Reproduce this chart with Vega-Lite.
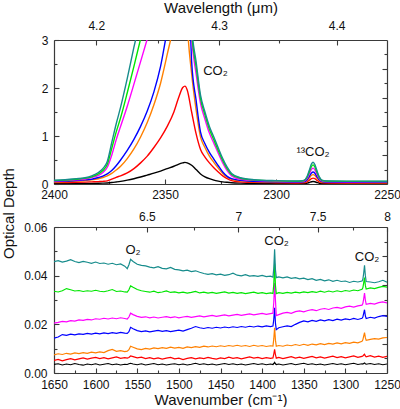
{
  "$schema": "https://vega.github.io/schema/vega-lite/v6.json",
  "background": "white",
  "padding": {"left": 1, "top": 0, "right": 0, "bottom": 0},
  "config": {
    "font": "Liberation Sans",
    "view": {"stroke": null},
    "axis": {
      "grid": false,
      "domainColor": "#3a3a3a",
      "domainWidth": 1.2,
      "tickColor": "#3a3a3a",
      "tickWidth": 1.1,
      "labelColor": "#111111",
      "titleColor": "#111111",
      "labelFont": "Liberation Sans",
      "titleFont": "Liberation Sans",
      "labelFontSize": 12,
      "titleFontSize": 15,
      "titleFontWeight": "normal",
      "labelFlush": false,
      "labelOverlap": false
    }
  },
  "datasets": {
    "top": [
      {"w":2400,"s":"s1","d":0.005},{"w":2395,"s":"s1","d":0.006},{"w":2390,"s":"s1","d":0.008},{"w":2386,"s":"s1","d":0.01},{"w":2383,"s":"s1","d":0.012},{"w":2380,"s":"s1","d":0.015},{"w":2378,"s":"s1","d":0.018},{"w":2376,"s":"s1","d":0.022},{"w":2374,"s":"s1","d":0.03},{"w":2372,"s":"s1","d":0.042},{"w":2370,"s":"s1","d":0.055},{"w":2367,"s":"s1","d":0.08},{"w":2364,"s":"s1","d":0.11},{"w":2361,"s":"s1","d":0.145},{"w":2358,"s":"s1","d":0.185},{"w":2355,"s":"s1","d":0.225},{"w":2352,"s":"s1","d":0.27},{"w":2349,"s":"s1","d":0.32},{"w":2346,"s":"s1","d":0.37},{"w":2344,"s":"s1","d":0.41},{"w":2342,"s":"s1","d":0.44},{"w":2341,"s":"s1","d":0.45},{"w":2340,"s":"s1","d":0.44},{"w":2338,"s":"s1","d":0.39},{"w":2336,"s":"s1","d":0.3},{"w":2334,"s":"s1","d":0.21},{"w":2332,"s":"s1","d":0.15},{"w":2330,"s":"s1","d":0.11},{"w":2328,"s":"s1","d":0.08},{"w":2326,"s":"s1","d":0.06},{"w":2324,"s":"s1","d":0.045},{"w":2322,"s":"s1","d":0.035},{"w":2320,"s":"s1","d":0.027},{"w":2316,"s":"s1","d":0.018},{"w":2310,"s":"s1","d":0.012},{"w":2300,"s":"s1","d":0.008},{"w":2290,"s":"s1","d":0.006},{"w":2287.5,"s":"s1","d":0.007},{"w":2286,"s":"s1","d":0.017},{"w":2285,"s":"s1","d":0.032},{"w":2284,"s":"s1","d":0.047},{"w":2283.3,"s":"s1","d":0.051},{"w":2282.5,"s":"s1","d":0.046},{"w":2281.5,"s":"s1","d":0.03},{"w":2280.5,"s":"s1","d":0.016},{"w":2279,"s":"s1","d":0.007},{"w":2276,"s":"s1","d":0.006},{"w":2265,"s":"s1","d":0.005},{"w":2250,"s":"s1","d":0.004},

      {"w":2400,"s":"s2","d":0.03},{"w":2395,"s":"s2","d":0.032},{"w":2390,"s":"s2","d":0.035},{"w":2386,"s":"s2","d":0.04},{"w":2383,"s":"s2","d":0.045},{"w":2380,"s":"s2","d":0.05},{"w":2378,"s":"s2","d":0.055},{"w":2376,"s":"s2","d":0.065},{"w":2374,"s":"s2","d":0.1},{"w":2372,"s":"s2","d":0.14},{"w":2370,"s":"s2","d":0.17},{"w":2367,"s":"s2","d":0.23},{"w":2364,"s":"s2","d":0.32},{"w":2361,"s":"s2","d":0.44},{"w":2358,"s":"s2","d":0.58},{"w":2355,"s":"s2","d":0.76},{"w":2352,"s":"s2","d":0.96},{"w":2349,"s":"s2","d":1.2},{"w":2346,"s":"s2","d":1.5},{"w":2344,"s":"s2","d":1.78},{"w":2342,"s":"s2","d":2.01},{"w":2341,"s":"s2","d":2.04},{"w":2340,"s":"s2","d":1.96},{"w":2338,"s":"s2","d":1.5},{"w":2336,"s":"s2","d":1.05},{"w":2334,"s":"s2","d":0.72},{"w":2332,"s":"s2","d":0.56},{"w":2330,"s":"s2","d":0.44},{"w":2328,"s":"s2","d":0.34},{"w":2326,"s":"s2","d":0.25},{"w":2324,"s":"s2","d":0.17},{"w":2322,"s":"s2","d":0.11},{"w":2320,"s":"s2","d":0.07},{"w":2316,"s":"s2","d":0.045},{"w":2310,"s":"s2","d":0.033},{"w":2300,"s":"s2","d":0.027},{"w":2290,"s":"s2","d":0.022},{"w":2287.5,"s":"s2","d":0.025},{"w":2286,"s":"s2","d":0.046},{"w":2285,"s":"s2","d":0.079},{"w":2284,"s":"s2","d":0.113},{"w":2283.3,"s":"s2","d":0.122},{"w":2282.5,"s":"s2","d":0.11},{"w":2281.5,"s":"s2","d":0.075},{"w":2280.5,"s":"s2","d":0.044},{"w":2279,"s":"s2","d":0.025},{"w":2276,"s":"s2","d":0.022},{"w":2265,"s":"s2","d":0.02},{"w":2250,"s":"s2","d":0.018},

      {"w":2400,"s":"s3","d":0.04},{"w":2395,"s":"s3","d":0.05},{"w":2390,"s":"s3","d":0.06},{"w":2386,"s":"s3","d":0.07},{"w":2383,"s":"s3","d":0.085},{"w":2380,"s":"s3","d":0.11},{"w":2378,"s":"s3","d":0.135},{"w":2376,"s":"s3","d":0.17},{"w":2374,"s":"s3","d":0.22},{"w":2372,"s":"s3","d":0.29},{"w":2370,"s":"s3","d":0.37},{"w":2367,"s":"s3","d":0.53},{"w":2364,"s":"s3","d":0.73},{"w":2361,"s":"s3","d":0.98},{"w":2358,"s":"s3","d":1.28},{"w":2355,"s":"s3","d":1.65},{"w":2352,"s":"s3","d":2.1},{"w":2349,"s":"s3","d":2.7},{"w":2346,"s":"s3","d":3.35},{"w":2344,"s":"s3","d":4.0},{"w":2342,"s":"s3","d":4.5},{"w":2341,"s":"s3","d":4.6},{"w":2340,"s":"s3","d":3.4},{"w":2338,"s":"s3","d":2.3},{"w":2336,"s":"s3","d":1.55},{"w":2334,"s":"s3","d":0.98},{"w":2332,"s":"s3","d":0.76},{"w":2330,"s":"s3","d":0.58},{"w":2328,"s":"s3","d":0.45},{"w":2326,"s":"s3","d":0.33},{"w":2324,"s":"s3","d":0.22},{"w":2322,"s":"s3","d":0.14},{"w":2320,"s":"s3","d":0.095},{"w":2316,"s":"s3","d":0.065},{"w":2310,"s":"s3","d":0.05},{"w":2300,"s":"s3","d":0.04},{"w":2290,"s":"s3","d":0.035},{"w":2287.5,"s":"s3","d":0.04},{"w":2286,"s":"s3","d":0.073},{"w":2285,"s":"s3","d":0.126},{"w":2284,"s":"s3","d":0.181},{"w":2283.3,"s":"s3","d":0.195},{"w":2282.5,"s":"s3","d":0.176},{"w":2281.5,"s":"s3","d":0.12},{"w":2280.5,"s":"s3","d":0.07},{"w":2279,"s":"s3","d":0.04},{"w":2276,"s":"s3","d":0.035},{"w":2265,"s":"s3","d":0.032},{"w":2250,"s":"s3","d":0.03},

      {"w":2400,"s":"s4","d":0.05},{"w":2395,"s":"s4","d":0.06},{"w":2390,"s":"s4","d":0.07},{"w":2386,"s":"s4","d":0.085},{"w":2383,"s":"s4","d":0.1},{"w":2380,"s":"s4","d":0.135},{"w":2378,"s":"s4","d":0.165},{"w":2376,"s":"s4","d":0.21},{"w":2374,"s":"s4","d":0.28},{"w":2372,"s":"s4","d":0.38},{"w":2370,"s":"s4","d":0.5},{"w":2367,"s":"s4","d":0.7},{"w":2364,"s":"s4","d":0.93},{"w":2361,"s":"s4","d":1.2},{"w":2358,"s":"s4","d":1.52},{"w":2355,"s":"s4","d":1.92},{"w":2352,"s":"s4","d":2.45},{"w":2349,"s":"s4","d":3.2},{"w":2346,"s":"s4","d":3.9},{"w":2344,"s":"s4","d":4.5},{"w":2342,"s":"s4","d":5},{"w":2341,"s":"s4","d":5},{"w":2340,"s":"s4","d":5},{"w":2338,"s":"s4","d":2.55},{"w":2336,"s":"s4","d":1.75},{"w":2334,"s":"s4","d":1.08},{"w":2332,"s":"s4","d":0.84},{"w":2330,"s":"s4","d":0.66},{"w":2328,"s":"s4","d":0.52},{"w":2326,"s":"s4","d":0.38},{"w":2324,"s":"s4","d":0.25},{"w":2322,"s":"s4","d":0.16},{"w":2320,"s":"s4","d":0.11},{"w":2316,"s":"s4","d":0.075},{"w":2310,"s":"s4","d":0.055},{"w":2300,"s":"s4","d":0.045},{"w":2290,"s":"s4","d":0.04},{"w":2287.5,"s":"s4","d":0.046},{"w":2286,"s":"s4","d":0.09},{"w":2285,"s":"s4","d":0.16},{"w":2284,"s":"s4","d":0.231},{"w":2283.3,"s":"s4","d":0.25},{"w":2282.5,"s":"s4","d":0.225},{"w":2281.5,"s":"s4","d":0.151},{"w":2280.5,"s":"s4","d":0.086},{"w":2279,"s":"s4","d":0.046},{"w":2276,"s":"s4","d":0.04},{"w":2265,"s":"s4","d":0.036},{"w":2250,"s":"s4","d":0.033},

      {"w":2400,"s":"s5","d":0.06},{"w":2395,"s":"s5","d":0.07},{"w":2390,"s":"s5","d":0.085},{"w":2386,"s":"s5","d":0.105},{"w":2383,"s":"s5","d":0.135},{"w":2380,"s":"s5","d":0.18},{"w":2378,"s":"s5","d":0.24},{"w":2376,"s":"s5","d":0.35},{"w":2374,"s":"s5","d":0.6},{"w":2372,"s":"s5","d":0.92},{"w":2370,"s":"s5","d":1.2},{"w":2367,"s":"s5","d":1.62},{"w":2364,"s":"s5","d":2.08},{"w":2361,"s":"s5","d":2.55},{"w":2358,"s":"s5","d":3.02},{"w":2355,"s":"s5","d":3.5},{"w":2352,"s":"s5","d":4.2},{"w":2349,"s":"s5","d":5},{"w":2346,"s":"s5","d":5},{"w":2344,"s":"s5","d":5},{"w":2342,"s":"s5","d":5},{"w":2341,"s":"s5","d":5},{"w":2340,"s":"s5","d":5},{"w":2338,"s":"s5","d":3.05},{"w":2336,"s":"s5","d":2.3},{"w":2334,"s":"s5","d":1.68},{"w":2332,"s":"s5","d":1.35},{"w":2330,"s":"s5","d":1.06},{"w":2328,"s":"s5","d":0.85},{"w":2326,"s":"s5","d":0.64},{"w":2324,"s":"s5","d":0.44},{"w":2322,"s":"s5","d":0.28},{"w":2320,"s":"s5","d":0.17},{"w":2316,"s":"s5","d":0.1},{"w":2310,"s":"s5","d":0.075},{"w":2300,"s":"s5","d":0.058},{"w":2290,"s":"s5","d":0.05},{"w":2287.5,"s":"s5","d":0.058},{"w":2286,"s":"s5","d":0.117},{"w":2285,"s":"s5","d":0.21},{"w":2284,"s":"s5","d":0.305},{"w":2283.3,"s":"s5","d":0.33},{"w":2282.5,"s":"s5","d":0.296},{"w":2281.5,"s":"s5","d":0.198},{"w":2280.5,"s":"s5","d":0.112},{"w":2279,"s":"s5","d":0.058},{"w":2276,"s":"s5","d":0.05},{"w":2265,"s":"s5","d":0.047},{"w":2250,"s":"s5","d":0.045},

      {"w":2400,"s":"s6","d":0.07},{"w":2395,"s":"s6","d":0.08},{"w":2390,"s":"s6","d":0.1},{"w":2386,"s":"s6","d":0.12},{"w":2383,"s":"s6","d":0.15},{"w":2380,"s":"s6","d":0.21},{"w":2378,"s":"s6","d":0.28},{"w":2376,"s":"s6","d":0.41},{"w":2374,"s":"s6","d":0.74},{"w":2372,"s":"s6","d":1.08},{"w":2370,"s":"s6","d":1.38},{"w":2367,"s":"s6","d":1.9},{"w":2364,"s":"s6","d":2.45},{"w":2361,"s":"s6","d":3.02},{"w":2358,"s":"s6","d":3.6},{"w":2355,"s":"s6","d":4.2},{"w":2352,"s":"s6","d":5},{"w":2349,"s":"s6","d":5},{"w":2346,"s":"s6","d":5},{"w":2344,"s":"s6","d":5},{"w":2342,"s":"s6","d":5},{"w":2341,"s":"s6","d":5},{"w":2340,"s":"s6","d":5},{"w":2338,"s":"s6","d":3.15},{"w":2336,"s":"s6","d":2.45},{"w":2334,"s":"s6","d":1.78},{"w":2332,"s":"s6","d":1.44},{"w":2330,"s":"s6","d":1.14},{"w":2328,"s":"s6","d":0.92},{"w":2326,"s":"s6","d":0.7},{"w":2324,"s":"s6","d":0.49},{"w":2322,"s":"s6","d":0.32},{"w":2320,"s":"s6","d":0.2},{"w":2316,"s":"s6","d":0.12},{"w":2310,"s":"s6","d":0.085},{"w":2300,"s":"s6","d":0.065},{"w":2290,"s":"s6","d":0.058},{"w":2287.5,"s":"s6","d":0.068},{"w":2286,"s":"s6","d":0.14},{"w":2285,"s":"s6","d":0.252},{"w":2284,"s":"s6","d":0.367},{"w":2283.3,"s":"s6","d":0.398},{"w":2282.5,"s":"s6","d":0.357},{"w":2281.5,"s":"s6","d":0.238},{"w":2280.5,"s":"s6","d":0.133},{"w":2279,"s":"s6","d":0.068},{"w":2276,"s":"s6","d":0.058},{"w":2265,"s":"s6","d":0.055},{"w":2250,"s":"s6","d":0.053},

      {"w":2400,"s":"s7","d":0.08},{"w":2395,"s":"s7","d":0.09},{"w":2390,"s":"s7","d":0.11},{"w":2386,"s":"s7","d":0.13},{"w":2383,"s":"s7","d":0.17},{"w":2380,"s":"s7","d":0.24},{"w":2378,"s":"s7","d":0.32},{"w":2376,"s":"s7","d":0.47},{"w":2374,"s":"s7","d":0.86},{"w":2372,"s":"s7","d":1.25},{"w":2370,"s":"s7","d":1.6},{"w":2367,"s":"s7","d":2.2},{"w":2364,"s":"s7","d":2.85},{"w":2361,"s":"s7","d":3.45},{"w":2358,"s":"s7","d":4.0},{"w":2355,"s":"s7","d":4.5},{"w":2352,"s":"s7","d":5},{"w":2349,"s":"s7","d":5},{"w":2346,"s":"s7","d":5},{"w":2344,"s":"s7","d":5},{"w":2342,"s":"s7","d":5},{"w":2341,"s":"s7","d":5},{"w":2340,"s":"s7","d":5},{"w":2338,"s":"s7","d":3.25},{"w":2336,"s":"s7","d":2.55},{"w":2334,"s":"s7","d":1.85},{"w":2332,"s":"s7","d":1.5},{"w":2330,"s":"s7","d":1.2},{"w":2328,"s":"s7","d":0.98},{"w":2326,"s":"s7","d":0.75},{"w":2324,"s":"s7","d":0.53},{"w":2322,"s":"s7","d":0.35},{"w":2320,"s":"s7","d":0.22},{"w":2316,"s":"s7","d":0.13},{"w":2310,"s":"s7","d":0.09},{"w":2300,"s":"s7","d":0.07},{"w":2290,"s":"s7","d":0.063},{"w":2287.5,"s":"s7","d":0.075},{"w":2286,"s":"s7","d":0.157},{"w":2285,"s":"s7","d":0.285},{"w":2284,"s":"s7","d":0.418},{"w":2283.3,"s":"s7","d":0.453},{"w":2282.5,"s":"s7","d":0.406},{"w":2281.5,"s":"s7","d":0.27},{"w":2280.5,"s":"s7","d":0.149},{"w":2279,"s":"s7","d":0.075},{"w":2276,"s":"s7","d":0.063},{"w":2265,"s":"s7","d":0.06},{"w":2250,"s":"s7","d":0.058}
    ],
    "bottom": [
      {"w":1650,"s":"s1","d":0.0035},{"w":1645,"s":"s1","d":0.0038},{"w":1640,"s":"s1","d":0.0033},{"w":1635,"s":"s1","d":0.0037},{"w":1630,"s":"s1","d":0.0034},{"w":1625,"s":"s1","d":0.0039},{"w":1620,"s":"s1","d":0.0035},{"w":1615,"s":"s1","d":0.0032},{"w":1610,"s":"s1","d":0.0037},{"w":1605,"s":"s1","d":0.0034},{"w":1600,"s":"s1","d":0.0038},{"w":1595,"s":"s1","d":0.0033},{"w":1590,"s":"s1","d":0.0036},{"w":1585,"s":"s1","d":0.0039},{"w":1580,"s":"s1","d":0.0034},{"w":1575,"s":"s1","d":0.0037},{"w":1570,"s":"s1","d":0.0033},{"w":1565,"s":"s1","d":0.0036},{"w":1562,"s":"s1","d":0.0035},{"w":1560,"s":"s1","d":0.0038},{"w":1558,"s":"s1","d":0.004},{"w":1555,"s":"s1","d":0.0037},{"w":1550,"s":"s1","d":0.0034},{"w":1545,"s":"s1","d":0.0038},{"w":1540,"s":"s1","d":0.0033},{"w":1535,"s":"s1","d":0.0036},{"w":1530,"s":"s1","d":0.0039},{"w":1525,"s":"s1","d":0.0034},{"w":1520,"s":"s1","d":0.0037},{"w":1515,"s":"s1","d":0.0033},{"w":1510,"s":"s1","d":0.0036},{"w":1505,"s":"s1","d":0.0038},{"w":1500,"s":"s1","d":0.0034},{"w":1495,"s":"s1","d":0.0037},{"w":1490,"s":"s1","d":0.0033},{"w":1485,"s":"s1","d":0.0036},{"w":1480,"s":"s1","d":0.004},{"w":1475,"s":"s1","d":0.0035},{"w":1470,"s":"s1","d":0.0038},{"w":1465,"s":"s1","d":0.0034},{"w":1460,"s":"s1","d":0.0037},{"w":1455,"s":"s1","d":0.0033},{"w":1450,"s":"s1","d":0.0036},{"w":1445,"s":"s1","d":0.0039},{"w":1440,"s":"s1","d":0.0035},{"w":1435,"s":"s1","d":0.0038},{"w":1430,"s":"s1","d":0.0034},{"w":1425,"s":"s1","d":0.0037},{"w":1420,"s":"s1","d":0.0033},{"w":1415,"s":"s1","d":0.0036},{"w":1410,"s":"s1","d":0.0039},{"w":1405,"s":"s1","d":0.0035},{"w":1400,"s":"s1","d":0.0038},{"w":1395,"s":"s1","d":0.0034},{"w":1390,"s":"s1","d":0.0037},{"w":1387,"s":"s1","d":0.0035},{"w":1386,"s":"s1","d":0.0039},{"w":1385,"s":"s1","d":0.0044},{"w":1384,"s":"s1","d":0.0038},{"w":1383,"s":"s1","d":0.0035},{"w":1380,"s":"s1","d":0.0037},{"w":1375,"s":"s1","d":0.0033},{"w":1370,"s":"s1","d":0.0036},{"w":1365,"s":"s1","d":0.0039},{"w":1360,"s":"s1","d":0.0034},{"w":1355,"s":"s1","d":0.0037},{"w":1350,"s":"s1","d":0.004},{"w":1345,"s":"s1","d":0.0035},{"w":1340,"s":"s1","d":0.0038},{"w":1335,"s":"s1","d":0.0034},{"w":1330,"s":"s1","d":0.0037},{"w":1325,"s":"s1","d":0.0033},{"w":1320,"s":"s1","d":0.0036},{"w":1315,"s":"s1","d":0.0039},{"w":1310,"s":"s1","d":0.0035},{"w":1305,"s":"s1","d":0.0038},{"w":1300,"s":"s1","d":0.0034},{"w":1295,"s":"s1","d":0.0037},{"w":1290,"s":"s1","d":0.004},{"w":1285,"s":"s1","d":0.0035},{"w":1280,"s":"s1","d":0.0038},{"w":1279,"s":"s1","d":0.0037},{"w":1278,"s":"s1","d":0.0039},{"w":1277,"s":"s1","d":0.0041},{"w":1276,"s":"s1","d":0.0038},{"w":1275,"s":"s1","d":0.0036},{"w":1270,"s":"s1","d":0.0039},{"w":1265,"s":"s1","d":0.0035},{"w":1260,"s":"s1","d":0.0038},{"w":1255,"s":"s1","d":0.0034},{"w":1250,"s":"s1","d":0.0037},

      {"w":1650,"s":"s2","d":0.0052},{"w":1645,"s":"s2","d":0.0056},{"w":1640,"s":"s2","d":0.005},{"w":1635,"s":"s2","d":0.0055},{"w":1630,"s":"s2","d":0.0059},{"w":1625,"s":"s2","d":0.0054},{"w":1620,"s":"s2","d":0.0058},{"w":1615,"s":"s2","d":0.0062},{"w":1610,"s":"s2","d":0.0057},{"w":1605,"s":"s2","d":0.0061},{"w":1600,"s":"s2","d":0.0064},{"w":1595,"s":"s2","d":0.0059},{"w":1590,"s":"s2","d":0.0063},{"w":1585,"s":"s2","d":0.0058},{"w":1580,"s":"s2","d":0.0062},{"w":1575,"s":"s2","d":0.0066},{"w":1570,"s":"s2","d":0.006},{"w":1565,"s":"s2","d":0.0063},{"w":1562,"s":"s2","d":0.0061},{"w":1560,"s":"s2","d":0.0064},{"w":1558,"s":"s2","d":0.007},{"w":1555,"s":"s2","d":0.0067},{"w":1550,"s":"s2","d":0.0062},{"w":1545,"s":"s2","d":0.0065},{"w":1540,"s":"s2","d":0.0059},{"w":1535,"s":"s2","d":0.0063},{"w":1530,"s":"s2","d":0.0058},{"w":1525,"s":"s2","d":0.0062},{"w":1520,"s":"s2","d":0.0057},{"w":1515,"s":"s2","d":0.0061},{"w":1510,"s":"s2","d":0.0064},{"w":1505,"s":"s2","d":0.0058},{"w":1500,"s":"s2","d":0.0061},{"w":1495,"s":"s2","d":0.0055},{"w":1490,"s":"s2","d":0.006},{"w":1485,"s":"s2","d":0.0063},{"w":1480,"s":"s2","d":0.0058},{"w":1475,"s":"s2","d":0.0062},{"w":1470,"s":"s2","d":0.0059},{"w":1465,"s":"s2","d":0.0064},{"w":1460,"s":"s2","d":0.006},{"w":1455,"s":"s2","d":0.0057},{"w":1450,"s":"s2","d":0.0062},{"w":1445,"s":"s2","d":0.0059},{"w":1440,"s":"s2","d":0.0065},{"w":1435,"s":"s2","d":0.006},{"w":1430,"s":"s2","d":0.0063},{"w":1425,"s":"s2","d":0.0058},{"w":1420,"s":"s2","d":0.0062},{"w":1415,"s":"s2","d":0.0066},{"w":1410,"s":"s2","d":0.0061},{"w":1405,"s":"s2","d":0.0064},{"w":1400,"s":"s2","d":0.0059},{"w":1395,"s":"s2","d":0.0063},{"w":1390,"s":"s2","d":0.006},{"w":1387,"s":"s2","d":0.0062},{"w":1386,"s":"s2","d":0.0078},{"w":1385,"s":"s2","d":0.0097},{"w":1384,"s":"s2","d":0.0075},{"w":1383,"s":"s2","d":0.0061},{"w":1380,"s":"s2","d":0.0064},{"w":1375,"s":"s2","d":0.0059},{"w":1370,"s":"s2","d":0.0063},{"w":1365,"s":"s2","d":0.0067},{"w":1360,"s":"s2","d":0.0061},{"w":1355,"s":"s2","d":0.0065},{"w":1350,"s":"s2","d":0.006},{"w":1345,"s":"s2","d":0.0064},{"w":1340,"s":"s2","d":0.0068},{"w":1335,"s":"s2","d":0.0062},{"w":1330,"s":"s2","d":0.0066},{"w":1325,"s":"s2","d":0.0061},{"w":1320,"s":"s2","d":0.0065},{"w":1315,"s":"s2","d":0.0069},{"w":1310,"s":"s2","d":0.0063},{"w":1305,"s":"s2","d":0.0067},{"w":1300,"s":"s2","d":0.0062},{"w":1295,"s":"s2","d":0.0066},{"w":1290,"s":"s2","d":0.007},{"w":1285,"s":"s2","d":0.0064},{"w":1280,"s":"s2","d":0.0068},{"w":1279,"s":"s2","d":0.007},{"w":1278,"s":"s2","d":0.0074},{"w":1277,"s":"s2","d":0.0077},{"w":1276,"s":"s2","d":0.007},{"w":1275,"s":"s2","d":0.0066},{"w":1270,"s":"s2","d":0.0071},{"w":1265,"s":"s2","d":0.0065},{"w":1260,"s":"s2","d":0.0069},{"w":1255,"s":"s2","d":0.0064},{"w":1250,"s":"s2","d":0.0068},

      {"w":1650,"s":"s3","d":0.0074},{"w":1645,"s":"s3","d":0.0079},{"w":1640,"s":"s3","d":0.0076},{"w":1635,"s":"s3","d":0.0081},{"w":1630,"s":"s3","d":0.0078},{"w":1625,"s":"s3","d":0.0083},{"w":1620,"s":"s3","d":0.008},{"w":1615,"s":"s3","d":0.0084},{"w":1610,"s":"s3","d":0.0081},{"w":1605,"s":"s3","d":0.0086},{"w":1600,"s":"s3","d":0.0083},{"w":1595,"s":"s3","d":0.0087},{"w":1590,"s":"s3","d":0.0084},{"w":1585,"s":"s3","d":0.0092},{"w":1580,"s":"s3","d":0.0097},{"w":1575,"s":"s3","d":0.0089},{"w":1570,"s":"s3","d":0.0092},{"w":1565,"s":"s3","d":0.0088},{"w":1562,"s":"s3","d":0.009},{"w":1560,"s":"s3","d":0.0096},{"w":1558,"s":"s3","d":0.011},{"w":1555,"s":"s3","d":0.0106},{"w":1550,"s":"s3","d":0.0099},{"w":1545,"s":"s3","d":0.0096},{"w":1540,"s":"s3","d":0.0101},{"w":1535,"s":"s3","d":0.0098},{"w":1530,"s":"s3","d":0.0103},{"w":1525,"s":"s3","d":0.01},{"w":1520,"s":"s3","d":0.0104},{"w":1515,"s":"s3","d":0.0101},{"w":1510,"s":"s3","d":0.0106},{"w":1505,"s":"s3","d":0.0102},{"w":1500,"s":"s3","d":0.0105},{"w":1495,"s":"s3","d":0.0101},{"w":1490,"s":"s3","d":0.0107},{"w":1485,"s":"s3","d":0.0104},{"w":1480,"s":"s3","d":0.0108},{"w":1475,"s":"s3","d":0.0105},{"w":1470,"s":"s3","d":0.011},{"w":1465,"s":"s3","d":0.0107},{"w":1460,"s":"s3","d":0.0111},{"w":1455,"s":"s3","d":0.0108},{"w":1450,"s":"s3","d":0.0112},{"w":1445,"s":"s3","d":0.0109},{"w":1440,"s":"s3","d":0.0113},{"w":1435,"s":"s3","d":0.011},{"w":1430,"s":"s3","d":0.0114},{"w":1425,"s":"s3","d":0.011},{"w":1420,"s":"s3","d":0.0113},{"w":1415,"s":"s3","d":0.0109},{"w":1410,"s":"s3","d":0.0114},{"w":1405,"s":"s3","d":0.011},{"w":1400,"s":"s3","d":0.0113},{"w":1395,"s":"s3","d":0.0109},{"w":1390,"s":"s3","d":0.0112},{"w":1387,"s":"s3","d":0.0111},{"w":1386,"s":"s3","d":0.014},{"w":1385,"s":"s3","d":0.0186},{"w":1384,"s":"s3","d":0.0135},{"w":1383,"s":"s3","d":0.011},{"w":1380,"s":"s3","d":0.0113},{"w":1375,"s":"s3","d":0.011},{"w":1370,"s":"s3","d":0.0115},{"w":1365,"s":"s3","d":0.0112},{"w":1360,"s":"s3","d":0.0117},{"w":1355,"s":"s3","d":0.0113},{"w":1350,"s":"s3","d":0.0118},{"w":1345,"s":"s3","d":0.0114},{"w":1340,"s":"s3","d":0.0119},{"w":1335,"s":"s3","d":0.0116},{"w":1330,"s":"s3","d":0.0121},{"w":1325,"s":"s3","d":0.0117},{"w":1320,"s":"s3","d":0.0122},{"w":1315,"s":"s3","d":0.0119},{"w":1310,"s":"s3","d":0.0124},{"w":1305,"s":"s3","d":0.012},{"w":1300,"s":"s3","d":0.0125},{"w":1295,"s":"s3","d":0.0122},{"w":1290,"s":"s3","d":0.0127},{"w":1285,"s":"s3","d":0.0124},{"w":1280,"s":"s3","d":0.013},{"w":1279,"s":"s3","d":0.0136},{"w":1278,"s":"s3","d":0.0152},{"w":1277,"s":"s3","d":0.0166},{"w":1276,"s":"s3","d":0.0145},{"w":1275,"s":"s3","d":0.0134},{"w":1270,"s":"s3","d":0.0138},{"w":1265,"s":"s3","d":0.0141},{"w":1260,"s":"s3","d":0.0139},{"w":1255,"s":"s3","d":0.0144},{"w":1250,"s":"s3","d":0.0146},

      {"w":1650,"s":"s4","d":0.0143},{"w":1645,"s":"s4","d":0.0148},{"w":1640,"s":"s4","d":0.0158},{"w":1635,"s":"s4","d":0.0155},{"w":1630,"s":"s4","d":0.016},{"w":1625,"s":"s4","d":0.0157},{"w":1620,"s":"s4","d":0.0161},{"w":1615,"s":"s4","d":0.0159},{"w":1610,"s":"s4","d":0.0163},{"w":1605,"s":"s4","d":0.016},{"w":1600,"s":"s4","d":0.0164},{"w":1595,"s":"s4","d":0.0161},{"w":1590,"s":"s4","d":0.0165},{"w":1585,"s":"s4","d":0.0162},{"w":1580,"s":"s4","d":0.0166},{"w":1575,"s":"s4","d":0.0163},{"w":1570,"s":"s4","d":0.0167},{"w":1565,"s":"s4","d":0.0164},{"w":1562,"s":"s4","d":0.0163},{"w":1560,"s":"s4","d":0.017},{"w":1558,"s":"s4","d":0.0188},{"w":1555,"s":"s4","d":0.0182},{"w":1550,"s":"s4","d":0.0174},{"w":1545,"s":"s4","d":0.017},{"w":1540,"s":"s4","d":0.0173},{"w":1535,"s":"s4","d":0.0169},{"w":1530,"s":"s4","d":0.0172},{"w":1525,"s":"s4","d":0.0175},{"w":1520,"s":"s4","d":0.0171},{"w":1515,"s":"s4","d":0.0174},{"w":1510,"s":"s4","d":0.017},{"w":1505,"s":"s4","d":0.0173},{"w":1500,"s":"s4","d":0.0176},{"w":1495,"s":"s4","d":0.0172},{"w":1490,"s":"s4","d":0.0178},{"w":1485,"s":"s4","d":0.0184},{"w":1480,"s":"s4","d":0.0191},{"w":1475,"s":"s4","d":0.0186},{"w":1470,"s":"s4","d":0.0183},{"w":1465,"s":"s4","d":0.0187},{"w":1460,"s":"s4","d":0.0184},{"w":1455,"s":"s4","d":0.0188},{"w":1450,"s":"s4","d":0.0185},{"w":1445,"s":"s4","d":0.0189},{"w":1440,"s":"s4","d":0.0186},{"w":1435,"s":"s4","d":0.019},{"w":1430,"s":"s4","d":0.0187},{"w":1425,"s":"s4","d":0.0191},{"w":1420,"s":"s4","d":0.0188},{"w":1415,"s":"s4","d":0.0192},{"w":1410,"s":"s4","d":0.0189},{"w":1405,"s":"s4","d":0.0193},{"w":1400,"s":"s4","d":0.019},{"w":1395,"s":"s4","d":0.0194},{"w":1390,"s":"s4","d":0.0191},{"w":1387,"s":"s4","d":0.0193},{"w":1386,"s":"s4","d":0.022},{"w":1385,"s":"s4","d":0.0268},{"w":1384,"s":"s4","d":0.0205},{"w":1383,"s":"s4","d":0.0178},{"w":1380,"s":"s4","d":0.0186},{"w":1375,"s":"s4","d":0.019},{"w":1370,"s":"s4","d":0.0194},{"w":1365,"s":"s4","d":0.0191},{"w":1360,"s":"s4","d":0.02},{"w":1355,"s":"s4","d":0.0208},{"w":1350,"s":"s4","d":0.0214},{"w":1345,"s":"s4","d":0.021},{"w":1340,"s":"s4","d":0.0216},{"w":1335,"s":"s4","d":0.0212},{"w":1330,"s":"s4","d":0.0218},{"w":1325,"s":"s4","d":0.0214},{"w":1320,"s":"s4","d":0.0219},{"w":1315,"s":"s4","d":0.0215},{"w":1310,"s":"s4","d":0.0221},{"w":1305,"s":"s4","d":0.0217},{"w":1300,"s":"s4","d":0.0222},{"w":1295,"s":"s4","d":0.0219},{"w":1290,"s":"s4","d":0.0224},{"w":1285,"s":"s4","d":0.022},{"w":1280,"s":"s4","d":0.0225},{"w":1279,"s":"s4","d":0.023},{"w":1278,"s":"s4","d":0.0245},{"w":1277,"s":"s4","d":0.026},{"w":1276,"s":"s4","d":0.0235},{"w":1275,"s":"s4","d":0.0224},{"w":1270,"s":"s4","d":0.0229},{"w":1265,"s":"s4","d":0.0226},{"w":1260,"s":"s4","d":0.0232},{"w":1255,"s":"s4","d":0.0236},{"w":1250,"s":"s4","d":0.0233},

      {"w":1650,"s":"s5","d":0.0205},{"w":1645,"s":"s5","d":0.0208},{"w":1640,"s":"s5","d":0.0212},{"w":1635,"s":"s5","d":0.021},{"w":1630,"s":"s5","d":0.0215},{"w":1625,"s":"s5","d":0.0213},{"w":1620,"s":"s5","d":0.0218},{"w":1615,"s":"s5","d":0.0216},{"w":1610,"s":"s5","d":0.022},{"w":1605,"s":"s5","d":0.0218},{"w":1600,"s":"s5","d":0.0223},{"w":1595,"s":"s5","d":0.0221},{"w":1590,"s":"s5","d":0.0225},{"w":1585,"s":"s5","d":0.0222},{"w":1580,"s":"s5","d":0.0226},{"w":1575,"s":"s5","d":0.0223},{"w":1570,"s":"s5","d":0.0227},{"w":1565,"s":"s5","d":0.0224},{"w":1562,"s":"s5","d":0.0222},{"w":1560,"s":"s5","d":0.023},{"w":1558,"s":"s5","d":0.0246},{"w":1555,"s":"s5","d":0.024},{"w":1550,"s":"s5","d":0.0233},{"w":1545,"s":"s5","d":0.0229},{"w":1540,"s":"s5","d":0.0231},{"w":1535,"s":"s5","d":0.0227},{"w":1530,"s":"s5","d":0.023},{"w":1525,"s":"s5","d":0.0226},{"w":1520,"s":"s5","d":0.0229},{"w":1515,"s":"s5","d":0.0232},{"w":1510,"s":"s5","d":0.0228},{"w":1505,"s":"s5","d":0.0231},{"w":1500,"s":"s5","d":0.0227},{"w":1495,"s":"s5","d":0.023},{"w":1490,"s":"s5","d":0.0233},{"w":1485,"s":"s5","d":0.0229},{"w":1480,"s":"s5","d":0.0232},{"w":1475,"s":"s5","d":0.0235},{"w":1470,"s":"s5","d":0.0231},{"w":1465,"s":"s5","d":0.0234},{"w":1460,"s":"s5","d":0.0237},{"w":1455,"s":"s5","d":0.0233},{"w":1450,"s":"s5","d":0.0236},{"w":1445,"s":"s5","d":0.0239},{"w":1440,"s":"s5","d":0.0235},{"w":1435,"s":"s5","d":0.0238},{"w":1430,"s":"s5","d":0.0241},{"w":1425,"s":"s5","d":0.0237},{"w":1420,"s":"s5","d":0.024},{"w":1415,"s":"s5","d":0.0243},{"w":1410,"s":"s5","d":0.0239},{"w":1405,"s":"s5","d":0.0242},{"w":1400,"s":"s5","d":0.0245},{"w":1395,"s":"s5","d":0.0241},{"w":1390,"s":"s5","d":0.0244},{"w":1387,"s":"s5","d":0.0246},{"w":1386,"s":"s5","d":0.029},{"w":1385,"s":"s5","d":0.037},{"w":1384,"s":"s5","d":0.03},{"w":1383,"s":"s5","d":0.0236},{"w":1380,"s":"s5","d":0.024},{"w":1375,"s":"s5","d":0.0246},{"w":1370,"s":"s5","d":0.0249},{"w":1365,"s":"s5","d":0.0245},{"w":1360,"s":"s5","d":0.0252},{"w":1355,"s":"s5","d":0.0255},{"w":1350,"s":"s5","d":0.0251},{"w":1345,"s":"s5","d":0.0257},{"w":1340,"s":"s5","d":0.026},{"w":1335,"s":"s5","d":0.0256},{"w":1330,"s":"s5","d":0.0262},{"w":1325,"s":"s5","d":0.0265},{"w":1320,"s":"s5","d":0.0261},{"w":1315,"s":"s5","d":0.0267},{"w":1310,"s":"s5","d":0.027},{"w":1305,"s":"s5","d":0.0266},{"w":1300,"s":"s5","d":0.0272},{"w":1295,"s":"s5","d":0.0275},{"w":1290,"s":"s5","d":0.0271},{"w":1285,"s":"s5","d":0.0276},{"w":1280,"s":"s5","d":0.0279},{"w":1279,"s":"s5","d":0.0285},{"w":1278,"s":"s5","d":0.0305},{"w":1277,"s":"s5","d":0.0328},{"w":1276,"s":"s5","d":0.03},{"w":1275,"s":"s5","d":0.0282},{"w":1270,"s":"s5","d":0.0286},{"w":1265,"s":"s5","d":0.0283},{"w":1260,"s":"s5","d":0.0289},{"w":1255,"s":"s5","d":0.0292},{"w":1250,"s":"s5","d":0.0288},

      {"w":1650,"s":"s6","d":0.0336},{"w":1645,"s":"s6","d":0.0333},{"w":1640,"s":"s6","d":0.0338},{"w":1635,"s":"s6","d":0.0347},{"w":1630,"s":"s6","d":0.0342},{"w":1625,"s":"s6","d":0.0337},{"w":1620,"s":"s6","d":0.0339},{"w":1615,"s":"s6","d":0.0335},{"w":1610,"s":"s6","d":0.0338},{"w":1605,"s":"s6","d":0.0336},{"w":1600,"s":"s6","d":0.034},{"w":1595,"s":"s6","d":0.0336},{"w":1590,"s":"s6","d":0.0334},{"w":1585,"s":"s6","d":0.0338},{"w":1580,"s":"s6","d":0.0343},{"w":1575,"s":"s6","d":0.0335},{"w":1570,"s":"s6","d":0.0337},{"w":1565,"s":"s6","d":0.0333},{"w":1562,"s":"s6","d":0.0332},{"w":1560,"s":"s6","d":0.0342},{"w":1558,"s":"s6","d":0.0358},{"w":1555,"s":"s6","d":0.0352},{"w":1550,"s":"s6","d":0.0343},{"w":1545,"s":"s6","d":0.0338},{"w":1540,"s":"s6","d":0.0335},{"w":1535,"s":"s6","d":0.0332},{"w":1530,"s":"s6","d":0.0336},{"w":1525,"s":"s6","d":0.033},{"w":1520,"s":"s6","d":0.0333},{"w":1515,"s":"s6","d":0.0337},{"w":1510,"s":"s6","d":0.0331},{"w":1505,"s":"s6","d":0.0333},{"w":1500,"s":"s6","d":0.0329},{"w":1495,"s":"s6","d":0.0332},{"w":1490,"s":"s6","d":0.0328},{"w":1485,"s":"s6","d":0.0331},{"w":1480,"s":"s6","d":0.0335},{"w":1475,"s":"s6","d":0.0329},{"w":1470,"s":"s6","d":0.0332},{"w":1465,"s":"s6","d":0.0328},{"w":1460,"s":"s6","d":0.0331},{"w":1455,"s":"s6","d":0.0327},{"w":1450,"s":"s6","d":0.033},{"w":1445,"s":"s6","d":0.0333},{"w":1440,"s":"s6","d":0.0328},{"w":1435,"s":"s6","d":0.0331},{"w":1430,"s":"s6","d":0.0327},{"w":1425,"s":"s6","d":0.033},{"w":1420,"s":"s6","d":0.0326},{"w":1415,"s":"s6","d":0.0329},{"w":1410,"s":"s6","d":0.0332},{"w":1405,"s":"s6","d":0.0327},{"w":1400,"s":"s6","d":0.033},{"w":1395,"s":"s6","d":0.0326},{"w":1390,"s":"s6","d":0.0329},{"w":1387,"s":"s6","d":0.0327},{"w":1386,"s":"s6","d":0.0365},{"w":1385,"s":"s6","d":0.045},{"w":1384,"s":"s6","d":0.036},{"w":1383,"s":"s6","d":0.0326},{"w":1380,"s":"s6","d":0.033},{"w":1375,"s":"s6","d":0.0327},{"w":1370,"s":"s6","d":0.0331},{"w":1365,"s":"s6","d":0.0328},{"w":1360,"s":"s6","d":0.0332},{"w":1355,"s":"s6","d":0.0329},{"w":1350,"s":"s6","d":0.0333},{"w":1345,"s":"s6","d":0.033},{"w":1340,"s":"s6","d":0.0334},{"w":1335,"s":"s6","d":0.0331},{"w":1330,"s":"s6","d":0.0336},{"w":1325,"s":"s6","d":0.0332},{"w":1320,"s":"s6","d":0.0337},{"w":1315,"s":"s6","d":0.0333},{"w":1310,"s":"s6","d":0.0338},{"w":1305,"s":"s6","d":0.0334},{"w":1300,"s":"s6","d":0.0339},{"w":1295,"s":"s6","d":0.0336},{"w":1290,"s":"s6","d":0.0341},{"w":1285,"s":"s6","d":0.0338},{"w":1280,"s":"s6","d":0.0344},{"w":1279,"s":"s6","d":0.035},{"w":1278,"s":"s6","d":0.037},{"w":1277,"s":"s6","d":0.0392},{"w":1276,"s":"s6","d":0.036},{"w":1275,"s":"s6","d":0.0345},{"w":1270,"s":"s6","d":0.035},{"w":1265,"s":"s6","d":0.0347},{"w":1260,"s":"s6","d":0.0352},{"w":1255,"s":"s6","d":0.0356},{"w":1250,"s":"s6","d":0.0353},

      {"w":1650,"s":"s7","d":0.0458},{"w":1645,"s":"s7","d":0.0462},{"w":1640,"s":"s7","d":0.0456},{"w":1635,"s":"s7","d":0.046},{"w":1630,"s":"s7","d":0.0466},{"w":1625,"s":"s7","d":0.0458},{"w":1620,"s":"s7","d":0.0454},{"w":1615,"s":"s7","d":0.0459},{"w":1610,"s":"s7","d":0.0455},{"w":1605,"s":"s7","d":0.0451},{"w":1600,"s":"s7","d":0.0456},{"w":1595,"s":"s7","d":0.045},{"w":1590,"s":"s7","d":0.0452},{"w":1585,"s":"s7","d":0.0447},{"w":1580,"s":"s7","d":0.0451},{"w":1575,"s":"s7","d":0.0445},{"w":1570,"s":"s7","d":0.0448},{"w":1565,"s":"s7","d":0.0439},{"w":1562,"s":"s7","d":0.0429},{"w":1560,"s":"s7","d":0.0445},{"w":1558,"s":"s7","d":0.0467},{"w":1555,"s":"s7","d":0.0458},{"w":1550,"s":"s7","d":0.0447},{"w":1545,"s":"s7","d":0.0442},{"w":1540,"s":"s7","d":0.044},{"w":1535,"s":"s7","d":0.0435},{"w":1530,"s":"s7","d":0.0432},{"w":1525,"s":"s7","d":0.0437},{"w":1520,"s":"s7","d":0.043},{"w":1515,"s":"s7","d":0.0428},{"w":1510,"s":"s7","d":0.0434},{"w":1505,"s":"s7","d":0.0426},{"w":1500,"s":"s7","d":0.0424},{"w":1495,"s":"s7","d":0.042},{"w":1490,"s":"s7","d":0.0423},{"w":1485,"s":"s7","d":0.0417},{"w":1480,"s":"s7","d":0.042},{"w":1475,"s":"s7","d":0.0414},{"w":1470,"s":"s7","d":0.0409},{"w":1465,"s":"s7","d":0.0405},{"w":1460,"s":"s7","d":0.0408},{"w":1455,"s":"s7","d":0.0403},{"w":1450,"s":"s7","d":0.0406},{"w":1445,"s":"s7","d":0.0401},{"w":1440,"s":"s7","d":0.0404},{"w":1435,"s":"s7","d":0.041},{"w":1430,"s":"s7","d":0.0402},{"w":1425,"s":"s7","d":0.0399},{"w":1420,"s":"s7","d":0.0404},{"w":1415,"s":"s7","d":0.0398},{"w":1410,"s":"s7","d":0.04},{"w":1405,"s":"s7","d":0.0397},{"w":1400,"s":"s7","d":0.0401},{"w":1395,"s":"s7","d":0.0396},{"w":1390,"s":"s7","d":0.0398},{"w":1387,"s":"s7","d":0.0394},{"w":1386,"s":"s7","d":0.043},{"w":1385,"s":"s7","d":0.0508},{"w":1384,"s":"s7","d":0.0425},{"w":1383,"s":"s7","d":0.0392},{"w":1380,"s":"s7","d":0.0395},{"w":1375,"s":"s7","d":0.0391},{"w":1370,"s":"s7","d":0.0395},{"w":1365,"s":"s7","d":0.0389},{"w":1360,"s":"s7","d":0.0392},{"w":1355,"s":"s7","d":0.0387},{"w":1350,"s":"s7","d":0.039},{"w":1345,"s":"s7","d":0.0384},{"w":1340,"s":"s7","d":0.0388},{"w":1335,"s":"s7","d":0.0381},{"w":1330,"s":"s7","d":0.0385},{"w":1325,"s":"s7","d":0.0379},{"w":1320,"s":"s7","d":0.0383},{"w":1315,"s":"s7","d":0.0377},{"w":1310,"s":"s7","d":0.0381},{"w":1305,"s":"s7","d":0.0376},{"w":1300,"s":"s7","d":0.0378},{"w":1295,"s":"s7","d":0.0372},{"w":1290,"s":"s7","d":0.0377},{"w":1285,"s":"s7","d":0.0374},{"w":1280,"s":"s7","d":0.0378},{"w":1279,"s":"s7","d":0.0385},{"w":1278,"s":"s7","d":0.041},{"w":1277,"s":"s7","d":0.0443},{"w":1276,"s":"s7","d":0.04},{"w":1275,"s":"s7","d":0.0376},{"w":1270,"s":"s7","d":0.0374},{"w":1265,"s":"s7","d":0.0371},{"w":1260,"s":"s7","d":0.0375},{"w":1255,"s":"s7","d":0.0381},{"w":1250,"s":"s7","d":0.0373}
    ],
    "topNotes": [
      {"w": 2327.3, "d": 2.35, "t": "CO₂"},
      {"w": 2283.3, "d": 0.67, "t": "¹³CO₂"}
    ],
    "bottomNotes": [
      {"w": 1555, "d": 0.0506, "t": "O₂"},
      {"w": 1382.7, "d": 0.0543, "t": "CO₂"},
      {"w": 1274, "d": 0.0477, "t": "CO₂"}
    ]
  },
  "spacing": 43,
  "bounds": "flush",
  "vconcat": [
    {
      "width": 333,
      "height": 144,
      "data": {"name": "top"},
      "resolve": {"axis": {"x": "independent", "y": "independent"}},
      "layer": [
        {
          "mark": {"type": "line", "clip": true, "strokeWidth": 1.4, "interpolate": "monotone"},
          "encoding": {
            "x": {"field": "w", "type": "quantitative",
              "scale": {"domain": [2250, 2400], "reverse": true, "nice": false, "zero": false},
              "axis": {"orient": "bottom", "values": [2400, 2350, 2300, 2250], "format": "d", "tickSize": -5, "labelPadding": 10, "title": null}},
            "y": {"field": "d", "type": "quantitative",
              "scale": {"domain": [0, 3], "nice": false, "zero": false},
              "axis": {"orient": "left", "values": [0, 1, 2, 3], "format": "d", "tickSize": -5, "labelPadding": 11,
                "title": "Optical Depth", "titleX": -41, "titleY": 173, "titleAlign": "center", "titleBaseline": "alphabetic"}},
            "color": {"field": "s", "type": "nominal", "legend": null,
              "scale": {"domain": ["s1", "s2", "s3", "s4", "s5", "s6", "s7"],
                        "range": ["#000000", "#ff0000", "#ff8000", "#0000ff", "#ff00ff", "#00e600", "#178c8c"]}}
          }
        },
        {
          "mark": {"type": "point", "opacity": 0, "clip": true},
          "encoding": {
            "x": {"field": "w", "type": "quantitative",
              "scale": {"domain": [2250, 2400], "reverse": true, "nice": false, "zero": false},
              "axis": {"orient": "top", "values": [2380.9524, 2325.5814, 2272.7273], "labelExpr": "toString(round(100000 / datum.value) / 10)",
                "tickSize": -5, "labelPadding": 13, "title": "Wavelength (μm)", "titleY": -27.5, "titleBaseline": "alphabetic"}},
            "y": {"field": "d", "type": "quantitative",
              "scale": {"domain": [0, 3], "nice": false, "zero": false},
              "axis": {"orient": "right", "values": [0.6, 1.2, 1.8, 2.4], "tickSize": -5, "labels": false, "title": null}}
          }
        },
        {
          "mark": {"type": "point", "opacity": 0, "clip": true},
          "encoding": {
            "x": {"field": "w", "type": "quantitative",
              "scale": {"domain": [2250, 2400], "reverse": true, "nice": false, "zero": false},
              "axis": {"orient": "bottom", "values": [2375, 2325, 2275], "tickSize": -3, "labels": false, "domain": false, "title": null}},
            "y": {"field": "d", "type": "quantitative",
              "scale": {"domain": [0, 3], "nice": false, "zero": false},
              "axis": {"orient": "left", "values": [0.5, 1.5, 2.5], "tickSize": -3, "labels": false, "domain": false, "title": null}}
          }
        },
        {
          "mark": {"type": "point", "opacity": 0, "clip": true},
          "encoding": {
            "x": {"field": "w", "type": "quantitative",
              "scale": {"domain": [2250, 2400], "reverse": true, "nice": false, "zero": false},
              "axis": {"orient": "top", "values": [2352.9412, 2298.8506], "tickSize": -3, "labels": false, "domain": false, "title": null}},
            "y": {"field": "d", "type": "quantitative",
              "scale": {"domain": [0, 3], "nice": false, "zero": false},
              "axis": {"orient": "right", "values": [0.3, 0.9, 1.5, 2.1, 2.7], "tickSize": -3, "labels": false, "domain": false, "title": null}}
          }
        },
        {
          "data": {"name": "topNotes"},
          "mark": {"type": "text", "fontSize": 13, "align": "center", "baseline": "middle", "color": "#111111"},
          "encoding": {
            "x": {"field": "w", "type": "quantitative",
              "scale": {"domain": [2250, 2400], "reverse": true, "nice": false, "zero": false}, "axis": null},
            "y": {"field": "d", "type": "quantitative",
              "scale": {"domain": [0, 3], "nice": false, "zero": false}, "axis": null},
            "text": {"field": "t", "type": "nominal"}
          }
        }
      ]
    },
    {
      "width": 333,
      "height": 146,
      "data": {"name": "bottom"},
      "resolve": {"axis": {"x": "independent", "y": "independent"}},
      "layer": [
        {
          "mark": {"type": "line", "clip": true, "strokeWidth": 1.2},
          "encoding": {
            "x": {"field": "w", "type": "quantitative",
              "scale": {"domain": [1250, 1650], "reverse": true, "nice": false, "zero": false},
              "axis": {"orient": "bottom", "values": [1650, 1600, 1550, 1500, 1450, 1400, 1350, 1300, 1250], "format": "d", "tickSize": -5, "labelPadding": 11,
                "title": "Wavenumber (cm⁻¹)", "titleY": 31, "titleBaseline": "alphabetic"}},
            "y": {"field": "d", "type": "quantitative",
              "scale": {"domain": [0, 0.06], "nice": false, "zero": false},
              "axis": {"orient": "left", "values": [0, 0.02, 0.04, 0.06], "format": ".2f", "tickSize": -5, "labelPadding": 12, "title": null}},
            "color": {"field": "s", "type": "nominal", "legend": null,
              "scale": {"domain": ["s1", "s2", "s3", "s4", "s5", "s6", "s7"],
                        "range": ["#000000", "#ff0000", "#ff8000", "#0000ff", "#ff00ff", "#00e600", "#178c8c"]}}
          }
        },
        {
          "mark": {"type": "point", "opacity": 0, "clip": true},
          "encoding": {
            "x": {"field": "w", "type": "quantitative",
              "scale": {"domain": [1250, 1650], "reverse": true, "nice": false, "zero": false},
              "axis": {"orient": "top", "values": [1538.4615, 1428.5714, 1333.3333, 1250], "labelExpr": "toString(round(100000 / datum.value) / 10)",
                "tickSize": -5, "labelPadding": 9, "title": null}},
            "y": {"field": "d", "type": "quantitative",
              "scale": {"domain": [0, 0.06], "nice": false, "zero": false},
              "axis": {"orient": "right", "values": [0.012, 0.024, 0.036, 0.048], "tickSize": -5, "labels": false, "title": null}}
          }
        },
        {
          "mark": {"type": "point", "opacity": 0, "clip": true},
          "encoding": {
            "x": {"field": "w", "type": "quantitative",
              "scale": {"domain": [1250, 1650], "reverse": true, "nice": false, "zero": false},
              "axis": {"orient": "bottom", "values": [1625, 1575, 1525, 1475, 1425, 1375, 1325, 1275], "tickSize": -3, "labels": false, "domain": false, "title": null}},
            "y": {"field": "d", "type": "quantitative",
              "scale": {"domain": [0, 0.06], "nice": false, "zero": false},
              "axis": {"orient": "left", "values": [0.01, 0.03, 0.05], "tickSize": -3, "labels": false, "domain": false, "title": null}}
          }
        },
        {
          "mark": {"type": "point", "opacity": 0, "clip": true},
          "encoding": {
            "x": {"field": "w", "type": "quantitative",
              "scale": {"domain": [1250, 1650], "reverse": true, "nice": false, "zero": false},
              "axis": {"orient": "top", "values": [1600, 1481.4815, 1379.3103, 1290.3226], "tickSize": -3, "labels": false, "domain": false, "title": null}},
            "y": {"field": "d", "type": "quantitative",
              "scale": {"domain": [0, 0.06], "nice": false, "zero": false},
              "axis": {"orient": "right", "values": [0.006, 0.018, 0.03, 0.042, 0.054], "tickSize": -3, "labels": false, "domain": false, "title": null}}
          }
        },
        {
          "data": {"name": "bottomNotes"},
          "mark": {"type": "text", "fontSize": 13, "align": "center", "baseline": "middle", "color": "#111111"},
          "encoding": {
            "x": {"field": "w", "type": "quantitative",
              "scale": {"domain": [1250, 1650], "reverse": true, "nice": false, "zero": false}, "axis": null},
            "y": {"field": "d", "type": "quantitative",
              "scale": {"domain": [0, 0.06], "nice": false, "zero": false}, "axis": null},
            "text": {"field": "t", "type": "nominal"}
          }
        }
      ]
    }
  ]
}
